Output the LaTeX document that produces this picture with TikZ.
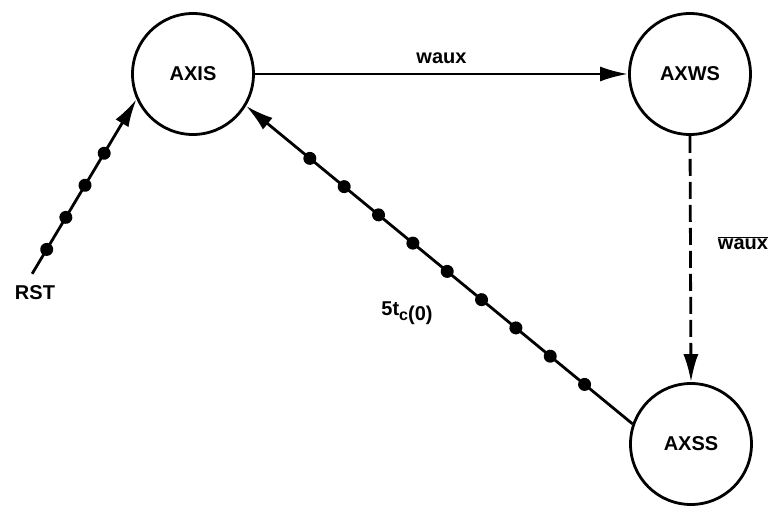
\documentclass[tikz,border=0pt]{standalone}
\usepackage{fontspec}
\setmainfont{Liberation Sans}
\usetikzlibrary{arrows.meta, positioning, decorations.markings}

\begin{document}
\begin{tikzpicture}[x=1pt, y=-1pt, >={Latex[length=28pt, width=15pt]},
  state/.style={circle, draw, line width=2.8pt, minimum size=121pt, inner sep=0pt,
    font=\fontsize{20}{22}\selectfont\bfseries},
  lbl/.style={font=\fontsize{20}{22}\selectfont\bfseries},
  link/.style={line width=2.8pt},
  beads/.style n args={3}{postaction={decorate}, decoration={markings,
    mark=between positions #1 and #3 step #2 with {\fill circle (6.5pt);}}}]

\useasboundingbox (0,0) rectangle (769,510);

% States
\node[state] (AXIS) at (193,74) {AXIS};
\node[state] (AXWS) at (690,74) {AXWS};
\node[state] (AXSS) at (691,444) {AXSS};
\node[lbl] (RST) at (35,293) {RST};

% Reset into AXIS
\draw[link, ->, shorten <=10pt, beads={0.18}{0.175}{0.75}] ([xshift=-8pt]RST.north) -- (AXIS.204);

% AXIS -> AXWS on waux
\draw[link, ->] (AXIS.east) -- (AXWS.west) node[lbl, midway, above=6pt] (waux) {waux};

% AXWS -> AXSS on not waux
\draw[link, ->, dash pattern=on 17pt off 6pt] (AXWS.south) -- (AXSS.north);
\node[lbl] (nwaux) at (743,243) {$\overline{\mbox{waux}}$};

% AXSS back to AXIS after 5 t_c(0)
\draw[link, ->, beads={0.124}{0.0889}{0.9}] (AXSS.161) -- (AXIS.329);
\node[lbl] (tc) at (407,313) {5t\raisebox{-5pt}{\fontsize{16}{16}\selectfont c}\raisebox{-5pt}{(0)}};

\end{tikzpicture}
\end{document}
